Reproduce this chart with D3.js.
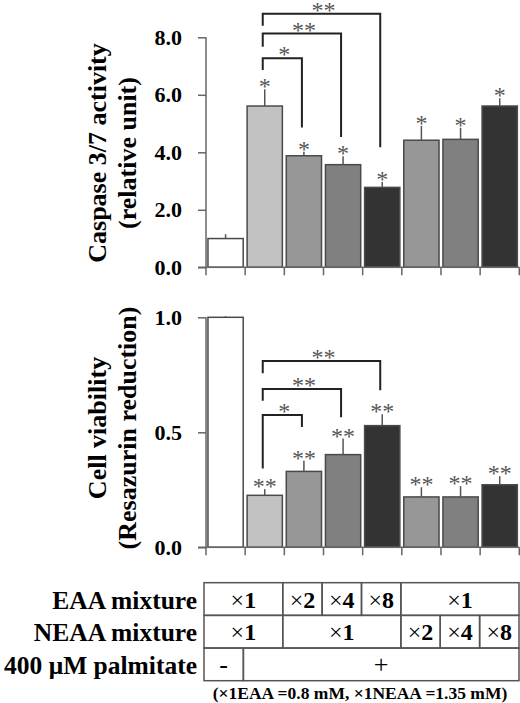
<!DOCTYPE html>
<html><head><meta charset="utf-8">
<script src="https://cdn.jsdelivr.net/npm/d3@7/dist/d3.min.js"></script>
<style>body{margin:0;background:#fff}svg{display:block}</style>
</head><body>
<script>
// ---- data ----
const groups = ["ctrl","PA","EAAx2","EAAx4","EAAx8","NEAAx2","NEAAx4","NEAAx8"];
const caspase = [1.0, 5.61, 3.88, 3.57, 2.78, 4.42, 4.45, 5.61];
const caspaseErr = [0.15, 0.58, 0.14, 0.29, 0.19, 0.50, 0.40, 0.27];
const caspaseSig = ["", "*", "*", "*", "*", "*", "*", "*"];
const viability = [1.0, 0.226, 0.330, 0.403, 0.529, 0.219, 0.219, 0.272];
const viabilityErr = [0.005, 0.027, 0.046, 0.07, 0.05, 0.042, 0.047, 0.037];
const viabilitySig = ["", "**", "**", "**", "**", "**", "**", "**"];
const caspaseTicks = [0, 2, 4, 6, 8];
const viabilityTicks = [0, 0.5, 1.0];
// brackets: from group, to group, level, left leg end, right leg end, label
const caspaseBrackets = [
  {from:1,to:2,level:7.27,leftEnd:6.86,rightEnd:4.86,label:"*"},
  {from:1,to:3,level:8.13,leftEnd:7.67,rightEnd:4.53,label:"**"},
  {from:1,to:4,level:8.82,leftEnd:8.40,rightEnd:4.18,label:"**"}
];
const viabilityBrackets = [
  {from:1,to:2,level:0.575,leftEnd:0.343,rightEnd:0.523,label:"*"},
  {from:1,to:3,level:0.688,leftEnd:0.637,rightEnd:0.565,label:"**"},
  {from:1,to:4,level:0.810,leftEnd:0.757,rightEnd:0.683,label:"**"}
];
const barColors = ["#ffffff","#c2c2c2","#979797","#808080","#333333","#979797","#808080","#333333"];
const tableRows = [
  {label:"EAA mixture", cells:[{s:0,e:2,t:"1",x:true},{s:2,e:3,t:"2",x:true},{s:3,e:4,t:"4",x:true},{s:4,e:5,t:"8",x:true},{s:5,e:8,t:"1",x:true}]},
  {label:"NEAA mixture", cells:[{s:0,e:2,t:"1",x:true},{s:2,e:5,t:"1",x:true},{s:5,e:6,t:"2",x:true},{s:6,e:7,t:"4",x:true},{s:7,e:8,t:"8",x:true}]},
  {label:"400 μM palmitate", cells:[{s:0,e:1,t:"-",x:false},{s:1,e:8,t:"+",x:false}]}
];
const footnote = "(×1EAA =0.8 mM, ×1NEAA =1.35 mM)";

// ---- drawing ----
const W = 520, H = 703;
const svg = d3.select("body").append("svg").attr("width", W).attr("height", H);
const FONT = "'Liberation Serif','Times New Roman',serif";
const axisColor = "#666";
const SIG_SIZE = 24;

const x = d3.scaleBand().domain(d3.range(groups.length)).range([206, 519.3]).paddingInner(0.1).paddingOuter(0.05);
const step = x.step();
const boundary = i => 206 + i * step;

function panel(opts) {
  const {vals, errs, sig, ticks, y, brackets, label1, label2, labelCenter, fmt} = opts;
  const g = svg.append("g");
  const y0 = y(0);
  // bars
  g.selectAll("rect.bar").data(vals).join("rect")
    .attr("x", (d,i) => x(i)).attr("width", x.bandwidth())
    .attr("y", d => y(d)).attr("height", d => y0 - y(d))
    .attr("fill", (d,i) => barColors[i]).attr("stroke", "#4a4a4a").attr("stroke-width", 1.5);
  // error bars
  g.selectAll("line.err").data(vals).join("line")
    .attr("x1", (d,i) => x(i) + x.bandwidth()/2).attr("x2", (d,i) => x(i) + x.bandwidth()/2)
    .attr("y1", d => y(d)).attr("y2", (d,i) => y(d + errs[i]))
    .attr("stroke", "#555").attr("stroke-width", 1.5);
  // significance marks
  g.selectAll("text.sig").data(vals).join("text")
    .attr("x", (d,i) => x(i) + x.bandwidth()/2).attr("y", (d,i) => y(d + errs[i]) + 5)
    .attr("text-anchor", "middle").attr("font-family", FONT).attr("font-size", SIG_SIZE)
    .attr("fill", "#555").text((d,i) => sig[i]);
  // y axis
  const ax = g.append("g").attr("transform", "translate(206,0)")
    .call(d3.axisLeft(y).tickValues(ticks).tickFormat(fmt).tickSize(8).tickSizeOuter(0).tickPadding(16));
  ax.select(".domain").attr("stroke", axisColor).attr("stroke-width", 1.5)
    .attr("d", `M0,${y(ticks[ticks.length-1])}V${y0}`);
  ax.selectAll(".tick line").attr("stroke", axisColor).attr("stroke-width", 1.5);
  ax.selectAll(".tick text").attr("font-family", FONT).attr("font-weight", "bold")
    .attr("font-size", 22).attr("fill", "#000");
  // x axis line and ticks at group boundaries
  g.append("line").attr("x1", 198).attr("x2", boundary(groups.length)).attr("y1", y0).attr("y2", y0)
    .attr("stroke", axisColor).attr("stroke-width", 1.5);
  g.selectAll("line.xt").data(d3.range(groups.length + 1)).join("line")
    .attr("x1", i => boundary(i)).attr("x2", i => boundary(i))
    .attr("y1", y0).attr("y2", y0 + 8).attr("stroke", axisColor).attr("stroke-width", 1.5);
  // brackets
  const cx = i => x(i) + x.bandwidth()/2 - 2;
  const bg = g.selectAll("g.br").data(brackets).join("g");
  bg.append("path")
    .attr("d", b => `M${cx(b.from)},${y(b.leftEnd)}V${y(b.level)}H${cx(b.to)}V${y(b.rightEnd)}`)
    .attr("fill", "none").attr("stroke", "#222").attr("stroke-width", 2);
  bg.append("text")
    .attr("x", b => (cx(b.from) + cx(b.to))/2 + 2).attr("y", b => y(b.level) + 4)
    .attr("text-anchor", "middle").attr("font-family", FONT).attr("font-size", SIG_SIZE)
    .attr("fill", "#555").text(b => b.label);
  // y label
  const lab = g.append("text").attr("transform", `translate(0,${labelCenter}) rotate(-90)`)
    .attr("text-anchor", "middle").attr("font-family", FONT).attr("font-weight", "bold")
    .attr("font-size", 26).attr("fill", "#000");
  lab.append("tspan").attr("x", 0).attr("y", 106).text(label1);
  lab.append("tspan").attr("x", 0).attr("y", 136).text(label2);
}

const yTop = d3.scaleLinear().domain([0, 8]).range([267.3, 37.3]);
panel({vals: caspase, errs: caspaseErr, sig: caspaseSig, ticks: caspaseTicks, y: yTop,
  brackets: caspaseBrackets, label1: "Caspase 3/7 activity", label2: "(relative unit)",
  labelCenter: 153, fmt: d3.format(".1f")});

const yBot = d3.scaleLinear().domain([0, 1]).range([547.3, 317.3]);
panel({vals: viability, errs: viabilityErr, sig: viabilitySig, ticks: viabilityTicks, y: yBot,
  brackets: viabilityBrackets, label1: "Cell viability", label2: "(Resazurin reduction)",
  labelCenter: 428, fmt: d3.format(".1f")});

// ---- condition table ----
const tx = d3.scaleLinear().domain([0, groups.length]).range([204, 519]);
const rowY = d3.scaleLinear().domain([0, 3]).range([582.7, 680.7]);
const tg = svg.append("g");
tableRows.forEach((row, r) => {
  const top = rowY(r), bot = rowY(r + 1), mid = (top + bot) / 2;
  tg.append("text").attr("x", 197).attr("y", mid + 9.5).attr("text-anchor", "end")
    .attr("font-family", FONT).attr("font-weight", "bold").attr("font-size", 25.5)
    .attr("fill", "#000").text(row.label);
  row.cells.forEach(c => {
    tg.append("rect").attr("x", tx(c.s)).attr("y", top).attr("width", tx(c.e) - tx(c.s))
      .attr("height", bot - top).attr("fill", "none").attr("stroke", "#555").attr("stroke-width", 1.5);
    const t = tg.append("text").attr("x", (tx(c.s) + tx(c.e)) / 2).attr("y", mid + 8.5)
      .attr("text-anchor", "middle").attr("font-family", FONT).attr("font-size", 24).attr("fill", "#000");
    if (c.x) {
      t.append("tspan").attr("font-weight", "normal").text("×");
      t.append("tspan").attr("font-weight", "bold").text(c.t);
    } else {
      t.attr("font-weight", "normal").attr("font-size", 26).text(c.t);
    }
  });
});
tg.append("text").attr("x", 360).attr("y", 699).attr("text-anchor", "middle")
  .attr("font-family", FONT).attr("font-weight", "bold").attr("font-size", 17.5).attr("fill", "#000")
  .text(footnote);
</script>
</body></html>
